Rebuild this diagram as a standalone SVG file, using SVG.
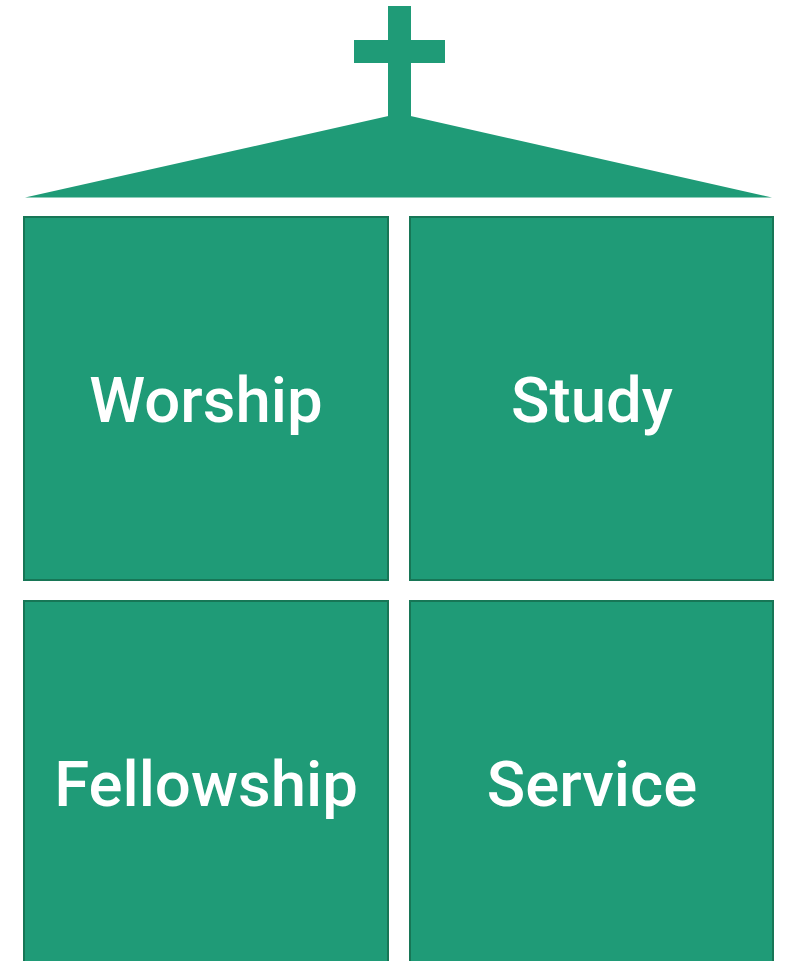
<svg xmlns="http://www.w3.org/2000/svg" width="785" height="961" viewBox="0 0 785 961">
  <style>
    .box { fill: #1f9b77; stroke: #177656; stroke-width: 2; }
    .shape { fill: #1f9b77; }
    .label { fill: #ffffff; font-family: Roboto, "Liberation Sans", sans-serif; font-weight: 500; font-size: 63.5px; text-anchor: middle; }
  </style>
  <rect width="785" height="961" fill="#ffffff"/>
  <g id="roof">
    <polygon class="shape" points="25,197.5 399.5,113.5 772,197.5"/>
    <rect class="shape" x="388" y="6" width="23" height="112"/>
    <rect class="shape" x="354" y="40" width="91" height="23"/>
  </g>
  <g id="worship">
    <rect class="box" x="24" y="217" width="364" height="363"/>
    <text class="label" x="206" y="422">Worship</text>
  </g>
  <g id="study">
    <rect class="box" x="410" y="217" width="363" height="363"/>
    <text class="label" x="592" y="422">Study</text>
  </g>
  <g id="fellowship">
    <rect class="box" x="24" y="601" width="364" height="380"/>
    <text class="label" x="206" y="806">Fellowship</text>
  </g>
  <g id="service">
    <rect class="box" x="410" y="601" width="363" height="380"/>
    <text class="label" x="592" y="806">Service</text>
  </g>
  <g id="connectors"></g>
</svg>
